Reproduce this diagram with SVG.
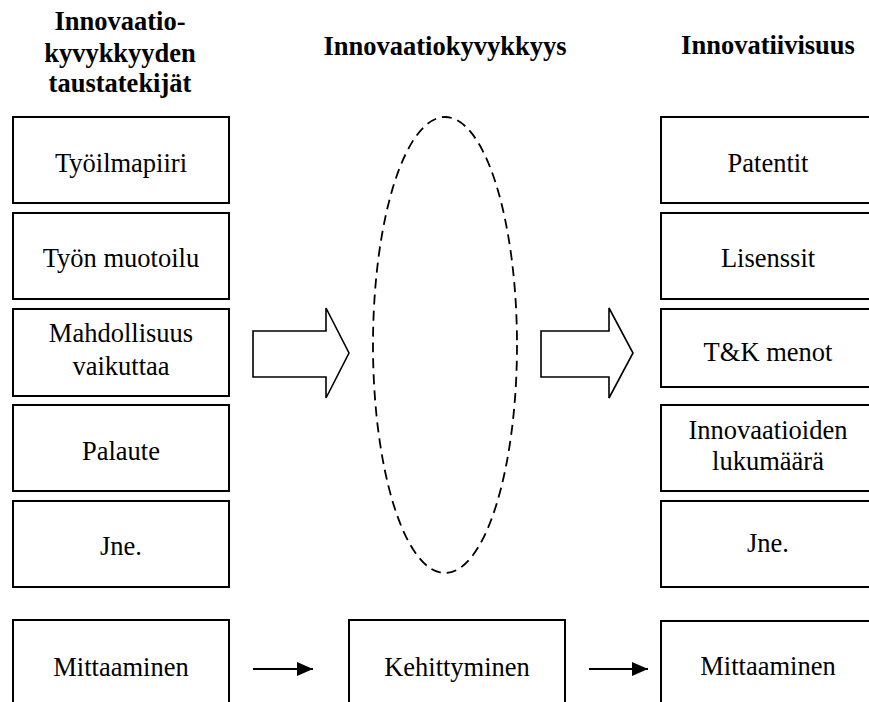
<svg xmlns="http://www.w3.org/2000/svg" width="869" height="702" viewBox="0 0 869 702">
  <style>
    .box { fill: #fff; stroke: #000; stroke-width: 2; }
    .lbl { font-size: 26.5px; fill: #000; text-anchor: middle; }
    .ttl { font-size: 26.5px; font-weight: bold; fill: #000; text-anchor: middle; }
    .block { fill: #fff; stroke: #000; stroke-width: 1.6; stroke-linejoin: miter; }
    .thin { stroke: #000; stroke-width: 2; fill: none; }
  </style>
  <defs>
    <marker id="head" markerWidth="16" markerHeight="14" refX="16" refY="7" orient="auto" markerUnits="userSpaceOnUse">
      <path d="M0,0 L16,7 L0,14 Z" fill="#000"/>
    </marker>
  </defs>

  <rect width="869" height="702" fill="#fff"/>

  <g font-family="'Liberation Serif', Tinos, 'DejaVu Serif', serif">
  <!-- column headings -->
  <g id="headings">
    <text class="ttl" x="120" y="30">Innovaatio-</text>
    <text class="ttl" x="120" y="62">kyvykkyyden</text>
    <text class="ttl" x="120" y="92">taustatekijät</text>
    <text class="ttl" x="445" y="55">Innovaatiokyvykkyys</text>
    <text class="ttl" x="768" y="54">Innovatiivisuus</text>
  </g>

  <!-- left column: background factors -->
  <g id="tyoilmapiiri">
    <rect class="box" x="13" y="117" width="216" height="86"/>
    <text class="lbl" x="121" y="172">Työilmapiiri</text>
  </g>
  <g id="tyon-muotoilu">
    <rect class="box" x="13" y="213" width="216" height="86"/>
    <text class="lbl" x="121" y="267">Työn muotoilu</text>
  </g>
  <g id="mahdollisuus">
    <rect class="box" x="13" y="309" width="216" height="87"/>
    <text class="lbl" x="121" y="342">Mahdollisuus</text>
    <text class="lbl" x="121" y="375">vaikuttaa</text>
  </g>
  <g id="palaute">
    <rect class="box" x="13" y="405" width="216" height="86"/>
    <text class="lbl" x="121" y="460">Palaute</text>
  </g>
  <g id="jne-left">
    <rect class="box" x="13" y="501" width="216" height="86"/>
    <text class="lbl" x="121" y="555">Jne.</text>
  </g>
  <g id="mittaaminen-left">
    <rect class="box" x="13" y="620" width="216" height="100"/>
    <text class="lbl" x="121" y="676">Mittaaminen</text>
  </g>

  <!-- middle: innovation capability -->
  <g id="kyvykkyys">
    <ellipse cx="445" cy="345" rx="72" ry="228" fill="none" stroke="#000" stroke-width="1.8" stroke-dasharray="10 6"/>
  </g>
  <g id="kehittyminen">
    <rect class="box" x="349" y="620" width="216" height="100"/>
    <text class="lbl" x="457" y="676">Kehittyminen</text>
  </g>

  <!-- right column: innovativeness -->
  <g id="patentit">
    <rect class="box" x="661" y="117" width="216" height="86"/>
    <text class="lbl" x="768" y="172">Patentit</text>
  </g>
  <g id="lisenssit">
    <rect class="box" x="661" y="213" width="216" height="86"/>
    <text class="lbl" x="768" y="267">Lisenssit</text>
  </g>
  <g id="tk-menot">
    <rect class="box" x="661" y="309" width="216" height="78"/>
    <text class="lbl" x="768" y="361">T&amp;K menot</text>
  </g>
  <g id="innovaatioiden-lukumaara">
    <rect class="box" x="661" y="405" width="216" height="86"/>
    <text class="lbl" x="768" y="439">Innovaatioiden</text>
    <text class="lbl" x="768" y="470">lukumäärä</text>
  </g>
  <g id="jne-right">
    <rect class="box" x="661" y="501" width="216" height="86"/>
    <text class="lbl" x="768" y="552">Jne.</text>
  </g>
  <g id="mittaaminen-right">
    <rect class="box" x="661" y="621" width="216" height="100"/>
    <text class="lbl" x="768" y="675">Mittaaminen</text>
  </g>
  </g>

  <!-- connectors -->
  <g id="connectors">
    <path class="block" d="M253,331 H326 V308 L349,353 L326,398 V377 H253 Z"/>
    <path class="block" d="M541,331 H609 V308 L633,353 L609,398 V377 H541 Z"/>
    <line class="thin" x1="253" y1="669" x2="313" y2="669" marker-end="url(#head)"/>
    <line class="thin" x1="589" y1="669" x2="648" y2="669" marker-end="url(#head)"/>
  </g>
</svg>
